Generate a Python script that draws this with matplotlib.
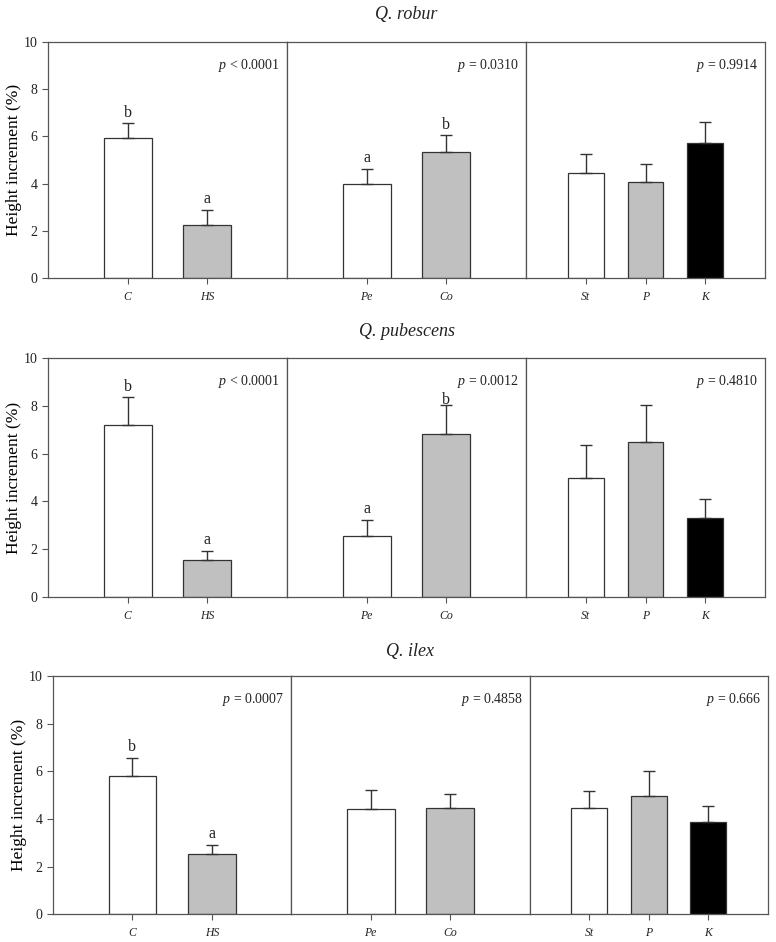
import numpy as np
import matplotlib
matplotlib.use("Agg")
import matplotlib.pyplot as plt

plt.rcParams['font.family'] = 'Liberation Serif'
plt.rcParams['mathtext.fontset'] = 'custom'
plt.rcParams['mathtext.rm'] = 'Liberation Serif'
plt.rcParams['mathtext.it'] = 'Liberation Serif:italic'

# --- data ---
species = ["Q. robur", "Q. pubescens", "Q. ilex"]
groups = [["C", "HS"], ["Pe", "Co"], ["St", "P", "K"]]

robur_means = [[5.95, 2.25], [4.00, 5.35], [4.45, 4.07, 5.72]]
robur_errs = [[0.60, 0.63], [0.62, 0.70], [0.80, 0.76, 0.89]]
robur_letters = [["b", "a"], ["a", "b"], ["", "", ""]]
robur_p = ["< 0.0001", "= 0.0310", "= 0.9914"]

pubescens_means = [[7.20, 1.57], [2.56, 6.82], [4.99, 6.50, 3.29]]
pubescens_errs = [[1.15, 0.35], [0.66, 1.22], [1.36, 1.54, 0.80]]
pubescens_letters = [["b", "a"], ["a", "b"], ["", "", ""]]
pubescens_p = ["< 0.0001", "= 0.0012", "= 0.4810"]

ilex_means = [[5.80, 2.53], [4.41, 4.47], [4.47, 4.98, 3.87]]
ilex_errs = [[0.75, 0.38], [0.81, 0.57], [0.69, 1.02, 0.67]]
ilex_letters = [["b", "a"], ["", ""], ["", "", ""]]
ilex_p = ["= 0.0007", "= 0.4858", "= 0.666"]

all_means = [robur_means, pubescens_means, ilex_means]
all_errs = [robur_errs, pubescens_errs, ilex_errs]
all_letters = [robur_letters, pubescens_letters, ilex_letters]
all_p = [robur_p, pubescens_p, ilex_p]

fills = ["white", "#c0c0c0", "black"]
frame = "#555555"
ink = "#333333"

# row layout in figure fractions: left, bottom, panel width, height, title y
rows = [
    (0.0619, 0.7049, 0.3080, 0.2505, 0.985),
    (0.0619, 0.3662, 0.3080, 0.2537, 0.6486),
    (0.0683, 0.0294, 0.3071, 0.2530, 0.3079),
]

fig = plt.figure(figsize=(7.76, 9.42), dpi=100)

for r, (left, bottom, w, h, ty) in enumerate(rows):
    for j, names in enumerate(groups):
        ax = fig.add_axes([left + j * w, bottom, w, h])
        n = len(names)
        x = np.arange(1, n + 1)
        means = np.array(all_means[r][j])
        errs = np.array(all_errs[r][j])

        ax.bar(x, means, width=0.6, color=fills[:n], edgecolor=ink,
               linewidth=0.9, zorder=2)
        ax.errorbar(x, means, yerr=[np.zeros(n), errs], fmt='none',
                    ecolor=ink, elinewidth=1.0, capsize=4.5, capthick=1.0,
                    zorder=3)

        for xi, top, lab in zip(x, means + errs, all_letters[r][j]):
            if lab:
                ly = top + 0.45
                # keep letters under the p-value on the right-hand side
                if xi > (n + 1) / 2:
                    ly = min(ly, 8.25)
                ax.text(xi, ly, lab, ha='center', va='center', fontsize=11.5,
                        color='#222222')

        ax.text(0.972, 0.9, r"$\it{p}$ " + all_p[r][j], transform=ax.transAxes,
                ha='right', va='center', fontsize=10, color='#222222')

        ax.set_xlim(0, n + 1)
        ax.set_ylim(0, 10)
        ax.set_xticks(x)
        ax.set_xticklabels(names, style='italic', fontsize=8.5)
        for s in ax.spines.values():
            s.set_color(frame)
            s.set_linewidth(0.9)
        ax.tick_params(axis='x', direction='out', length=4, width=0.8,
                       color=frame, pad=5.5, labelcolor='#222222')
        if j == 0:
            ax.set_yticks(np.arange(0, 11, 2))
            ax.tick_params(axis='y', direction='out', length=4, width=0.8,
                           color=frame, labelsize=10, labelcolor='#222222')
            ax.set_ylabel("Height increment (%)", fontsize=12.5, labelpad=1.5)
        else:
            ax.tick_params(axis='y', left=False, labelleft=False)

    fig.text(left + 1.5 * w, ty, species[r], ha='center', va='center',
             style='italic', fontsize=13, color='#222222')

fig.savefig("out.png", dpi=100)
